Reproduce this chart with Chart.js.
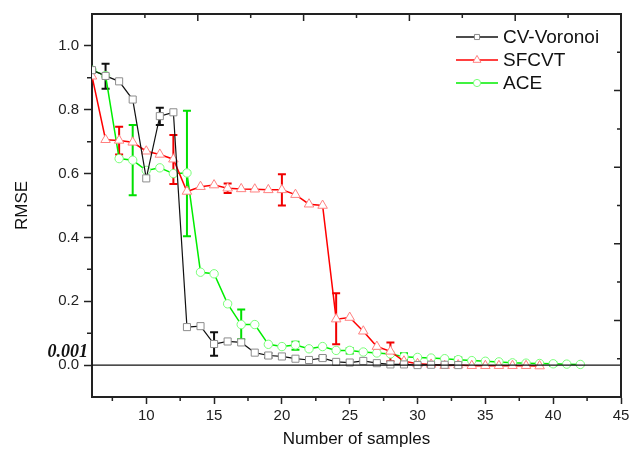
<!DOCTYPE html>
<html>
<head>
<meta charset="utf-8">
<script src="https://cdn.jsdelivr.net/npm/chart.js@4.4.1/dist/chart.umd.min.js"></script>
<style>
  html, body { margin: 0; padding: 0; background: #fff; }
  #wrap { width: 639px; height: 461px; }
</style>
</head>
<body>
<div id="wrap"><canvas id="rmse"></canvas></div>
<script>
// RMSE against number of samples for three sampling schemes

var seriesNames = ['CV-Voronoi', 'SFCVT', 'ACE'];

var cvX = [6, 7, 8, 9, 10, 11, 12, 13, 14, 15, 16, 17, 18, 19, 20, 21, 22, 23, 24, 25, 26, 27, 28, 29, 30, 31, 32, 33];
var cvY = [0.924, 0.906, 0.889, 0.832, 0.585, 0.780, 0.792, 0.119, 0.122, 0.066, 0.074, 0.071, 0.039, 0.030,
           0.027, 0.020, 0.016, 0.022, 0.010, 0.008, 0.013, 0.006, 0.002, 0.002, 0.000, 0.001, 0.001, 0.000];

var sfX = [6, 7, 8, 9, 10, 11, 12, 13, 14, 15, 16, 17, 18, 19, 20, 21, 22, 23, 24, 25, 26, 27, 28, 29, 30, 31, 32,
           33, 34, 35, 36, 37, 38, 39];
var sfY = [0.905, 0.706, 0.704, 0.698, 0.670, 0.660, 0.645, 0.544, 0.559, 0.564, 0.554, 0.552, 0.551, 0.549,
           0.549, 0.534, 0.504, 0.500, 0.144, 0.149, 0.106, 0.058, 0.043, 0.012, 0.004, 0.002, -0.002, 0.000,
           -0.002, -0.002, -0.002, -0.002, -0.002, -0.003];

var aceX = [6, 7, 8, 9, 10, 11, 12, 13, 14, 15, 16, 17, 18, 19, 20, 21, 22, 23, 24, 25, 26, 27, 28, 29, 30, 31,
            32, 33, 34, 35, 36, 37, 38, 39, 40, 41, 42];
var aceY = [0.924, 0.907, 0.647, 0.642, 0.610, 0.618, 0.600, 0.602, 0.291, 0.286, 0.192, 0.127, 0.127, 0.065,
            0.058, 0.063, 0.051, 0.058, 0.046, 0.046, 0.041, 0.038, 0.035, 0.026, 0.024, 0.022, 0.020, 0.017,
            0.014, 0.012, 0.010, 0.007, 0.006, 0.005, 0.004, 0.003, 0.002];

// error bars: sample count, lower and upper value
var cvErrX = [7, 11, 15, 19, 23, 27, 30];
var cvErrLo = [0.866, 0.752, 0.029, 0.023, 0.016, 0.002, -0.004];
var cvErrHi = [0.944, 0.806, 0.103, 0.037, 0.028, 0.010, 0.004];

var sfErrX = [8, 12, 16, 20, 24, 28, 32];
var sfErrLo = [0.660, 0.567, 0.539, 0.500, 0.065, 0.012, -0.008];
var sfErrHi = [0.747, 0.721, 0.569, 0.598, 0.225, 0.071, 0.004];

var aceErrX = [9, 13, 17, 21, 25, 29, 33, 37, 40];
var aceErrLo = [0.532, 0.404, 0.081, 0.048, 0.036, 0.017, 0.010, 0.002, -0.002];
var aceErrHi = [0.752, 0.797, 0.174, 0.073, 0.053, 0.037, 0.024, 0.012, 0.009];

var xMajorTicks = [10, 15, 20, 25, 30, 35, 40, 45];
var xMinorTicks = [7.5, 12.5, 17.5, 22.5, 27.5, 32.5, 37.5, 42.5];
var yMajorTicks = [0, 0.2, 0.4, 0.6, 0.8, 1.0];
var yMinorTicks = [0.1, 0.3, 0.5, 0.7, 0.9];

var styles = [
    { line: '#111111', err: '#111111', marker: '#8c8c8c', shape: 'rect', radius: 5, width: 1.2 },
    { line: '#ff0000', err: '#f00000', marker: '#ff8080', shape: 'triangle', radius: 5.5, width: 1.5 },
    { line: '#00ee00', err: '#00e000', marker: '#77ff77', shape: 'circle', radius: 4.2, width: 1.5 }
];

var errors = [
    { x: cvErrX, lo: cvErrLo, hi: cvErrHi },
    { x: sfErrX, lo: sfErrLo, hi: sfErrHi },
    { x: aceErrX, lo: aceErrLo, hi: aceErrHi }
];

function points(xs, ys) {
    return xs.map(function(x, i) { return { x: x, y: ys[i] }; });
}

function makeDataset(k, xs, ys) {
    var s = styles[k];
    return {
        label: seriesNames[k],
        data: points(xs, ys),
        borderColor: s.line,
        borderWidth: s.width,
        pointStyle: s.shape,
        pointRadius: s.radius,
        pointBorderColor: s.marker,
        pointBackgroundColor: '#ffffff',
        pointBorderWidth: 1,
        tension: 0,
        fill: false
    };
}

var font = '"Liberation Sans", Arial, sans-serif';
var axisColor = '#222222';

var errorBars = {
    id: 'errorBars',
    beforeDatasetsDraw: function(chart) {
        var ctx = chart.ctx, xs = chart.scales.x, ys = chart.scales.y;
        errors.forEach(function(e, k) {
            ctx.save();
            ctx.strokeStyle = styles[k].err;
            ctx.lineWidth = 2;
            e.x.forEach(function(xv, i) {
                var px = xs.getPixelForValue(xv);
                var lo = ys.getPixelForValue(e.lo[i]);
                var hi = ys.getPixelForValue(e.hi[i]);
                ctx.beginPath();
                ctx.moveTo(px, lo); ctx.lineTo(px, hi);
                ctx.moveTo(px - 4, lo); ctx.lineTo(px + 4, lo);
                ctx.moveTo(px - 4, hi); ctx.lineTo(px + 4, hi);
                ctx.stroke();
            });
            ctx.restore();
        });
    }
};

var frame = {
    id: 'frame',
    afterDatasetsDraw: function(chart) {
        var ctx = chart.ctx, a = chart.chartArea, xs = chart.scales.x, ys = chart.scales.y;
        var i;
        ctx.save();

        // zero line
        var y0 = ys.getPixelForValue(0);
        ctx.strokeStyle = '#111';
        ctx.lineWidth = 1.2;
        ctx.beginPath();
        ctx.moveTo(a.left, y0); ctx.lineTo(a.right, y0);
        ctx.stroke();

        // top and right box lines
        ctx.strokeStyle = axisColor;
        ctx.lineWidth = 2;
        ctx.beginPath();
        ctx.moveTo(a.left, a.top); ctx.lineTo(a.right, a.top); ctx.lineTo(a.right, a.bottom);
        ctx.stroke();

        // inward ticks on the top and right edges
        ctx.lineWidth = 1.5;
        ctx.beginPath();
        for (i = 1; i < 10; i++) {
            var len = i % 2 === 0 ? 7 : 4;
            var tx = a.left + (a.right - a.left) * i / 10;
            ctx.moveTo(tx, a.top); ctx.lineTo(tx, a.top + len);
            var ty = a.top + (a.bottom - a.top) * i / 10;
            ctx.moveTo(a.right, ty); ctx.lineTo(a.right - len, ty);
        }
        // minor outward ticks on the bottom and left
        xMinorTicks.forEach(function(v) {
            var px = xs.getPixelForValue(v);
            ctx.moveTo(px, a.bottom); ctx.lineTo(px, a.bottom + 4);
        });
        yMinorTicks.forEach(function(v) {
            var py = ys.getPixelForValue(v);
            ctx.moveTo(a.left, py); ctx.lineTo(a.left - 5, py);
        });
        ctx.stroke();

        // 0.001 annotation
        ctx.fillStyle = '#111';
        ctx.font = 'italic bold 18px "Liberation Serif", "Times New Roman", serif';
        ctx.textAlign = 'right';
        ctx.textBaseline = 'alphabetic';
        ctx.fillText('0.001', 88, 357);

        // legend
        ctx.font = '19px ' + font;
        ctx.textAlign = 'left';
        ctx.textBaseline = 'middle';
        var rowY = [37, 60, 83];
        var legendRadius = [3.6, 4.6, 3.6];
        seriesNames.forEach(function(name, k) {
            var s = styles[k], ly = rowY[k];
            ctx.strokeStyle = s.line;
            ctx.lineWidth = 1.5;
            ctx.beginPath();
            ctx.moveTo(456, ly); ctx.lineTo(498, ly);
            ctx.stroke();
            ctx.fillStyle = '#fff';
            ctx.strokeStyle = s.marker;
            ctx.lineWidth = 1;
            Chart.helpers.drawPoint(ctx, { pointStyle: s.shape, radius: legendRadius[k], rotation: 0, borderWidth: 1 }, 477, ly);
            ctx.fillStyle = '#111';
            ctx.fillText(name, 503, ly + 1);
        });

        ctx.restore();
    }
};

new Chart(document.getElementById('rmse'), {
    type: 'line',
    data: {
        datasets: [
            makeDataset(0, cvX, cvY),
            makeDataset(1, sfX, sfY),
            makeDataset(2, aceX, aceY)
        ]
    },
    options: {
        responsive: true,
        maintainAspectRatio: false,
        animation: false,
        layout: { padding: { top: 3, right: 18, left: 0, bottom: 0 } },
        plugins: {
            legend: { display: false },
            tooltip: { enabled: false }
        },
        scales: {
            x: {
                type: 'linear',
                min: 6,
                max: 45,
                afterBuildTicks: function(s) { s.ticks = xMajorTicks.map(function(v) { return { value: v }; }); },
                afterFit: function(s) { s.height = 64; },
                border: { display: true, color: axisColor, width: 2 },
                grid: { drawOnChartArea: false, drawTicks: true, tickLength: 7, tickColor: axisColor, tickWidth: 1.5 },
                ticks: {
                    color: '#222',
                    padding: 3,
                    maxRotation: 0,
                    font: { family: font, size: 15 },
                    callback: function(v) { return String(v); }
                },
                title: {
                    display: true,
                    text: 'Number of samples',
                    color: '#111',
                    font: { family: font, size: 17 },
                    padding: { top: 0, bottom: 11 }
                }
            },
            y: {
                type: 'linear',
                min: -0.1,
                max: 1.1,
                afterBuildTicks: function(s) { s.ticks = yMajorTicks.map(function(v) { return { value: v }; }); },
                afterFit: function(s) { s.width = 92; },
                border: { display: true, color: axisColor, width: 2 },
                grid: { drawOnChartArea: false, drawTicks: true, tickLength: 8, tickColor: axisColor, tickWidth: 1.5 },
                ticks: {
                    color: '#222',
                    padding: 5,
                    font: { family: font, size: 15 },
                    callback: function(v) { return Number(v).toFixed(1); }
                },
                title: {
                    display: true,
                    text: 'RMSE',
                    color: '#111',
                    font: { family: font, size: 17 },
                    padding: { top: 12, bottom: 0 }
                }
            }
        }
    },
    plugins: [errorBars, frame]
});
</script>
</body>
</html>
